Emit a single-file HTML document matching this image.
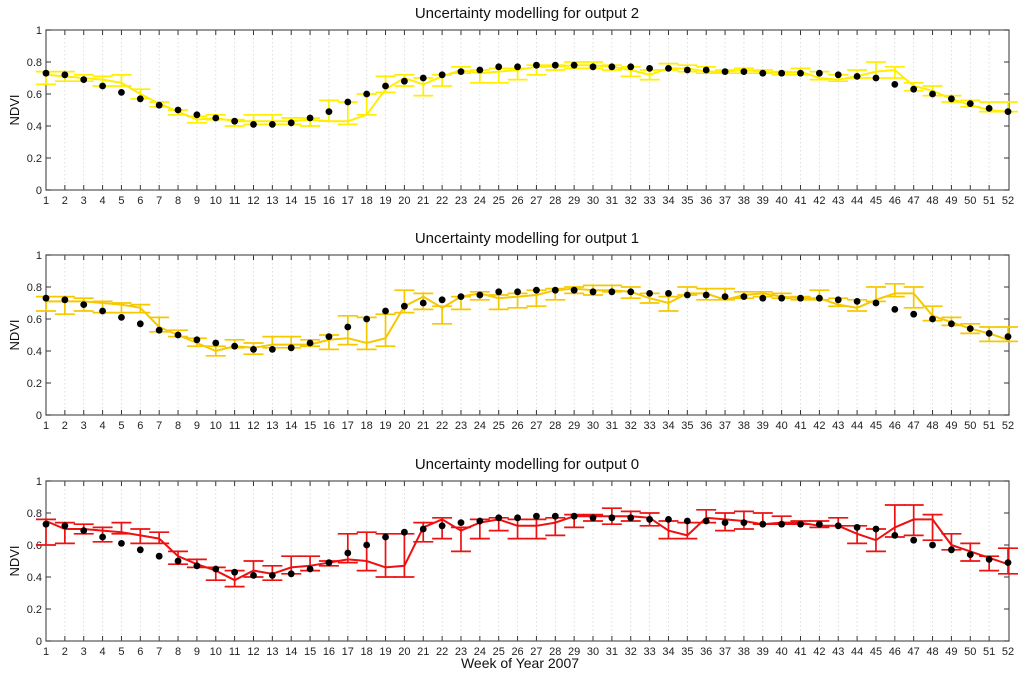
<!DOCTYPE html>
<html><head><meta charset="utf-8"><style>
html,body{margin:0;padding:0;background:#fff;}
svg{display:block;font-family:"Liberation Sans",Arial,sans-serif;}
</style></head><body>
<svg id="chart" width="1024" height="682" viewBox="0 0 1024 682" xmlns="http://www.w3.org/2000/svg"></svg>
<script>
const weeks = Array.from({length:52},(_,i)=>i+1);
const observed = [.73,.72,.69,.65,.61,.57,.53,.50,.47,.45,.43,.41,.41,.42,.45,.49,.55,.60,.65,.68,.70,.72,.74,.75,.77,.77,.78,.78,.78,.77,.77,.77,.76,.76,.75,.75,.74,.74,.73,.73,.73,.73,.72,.71,.70,.66,.63,.60,.57,.54,.51,.49];
const out2Mean = [.72,.71,.70,.69,.67,.60,.54,.49,.44,.45,.43,.43,.43,.43,.44,.43,.43,.47,.63,.70,.66,.71,.75,.73,.74,.75,.77,.77,.78,.78,.77,.75,.72,.76,.76,.74,.74,.75,.74,.73,.74,.70,.69,.71,.74,.75,.65,.62,.57,.53,.50,.49];
const out2Low  = [.66,.68,.68,.65,.65,.57,.52,.47,.42,.44,.40,.41,.41,.41,.40,.43,.41,.47,.61,.65,.59,.65,.73,.67,.67,.69,.72,.75,.76,.76,.75,.71,.69,.75,.74,.73,.73,.73,.73,.72,.72,.69,.68,.70,.70,.70,.62,.59,.55,.52,.49,.49];
const out2High = [.74,.74,.72,.71,.72,.63,.55,.50,.46,.47,.44,.47,.47,.45,.45,.56,.55,.60,.71,.72,.70,.72,.77,.75,.76,.76,.78,.78,.80,.80,.78,.77,.75,.79,.78,.77,.75,.76,.75,.74,.76,.74,.72,.75,.80,.77,.67,.65,.59,.56,.55,.55];
const out1Mean = [.71,.71,.71,.70,.69,.67,.55,.50,.45,.40,.43,.42,.44,.44,.44,.47,.48,.45,.48,.68,.74,.67,.74,.76,.73,.74,.75,.78,.79,.78,.78,.77,.73,.70,.76,.76,.72,.75,.76,.74,.73,.73,.69,.67,.72,.76,.76,.62,.58,.54,.51,.47];
const out1Low  = [.65,.63,.65,.64,.64,.64,.52,.49,.43,.37,.42,.38,.42,.42,.43,.41,.44,.41,.43,.64,.66,.57,.66,.72,.66,.67,.68,.72,.76,.75,.77,.73,.70,.65,.75,.72,.72,.73,.74,.73,.72,.72,.68,.65,.71,.74,.67,.59,.56,.51,.46,.46];
const out1High = [.74,.74,.73,.71,.70,.69,.61,.53,.48,.43,.47,.45,.49,.49,.47,.50,.62,.61,.63,.78,.76,.68,.74,.77,.75,.76,.78,.79,.80,.81,.81,.80,.76,.74,.80,.79,.79,.77,.77,.76,.74,.78,.73,.72,.80,.82,.80,.68,.61,.57,.55,.55];
const out0Mean = [.75,.70,.70,.69,.68,.66,.64,.53,.48,.44,.38,.44,.42,.46,.47,.49,.51,.50,.46,.47,.71,.76,.69,.74,.76,.72,.72,.74,.78,.78,.78,.78,.77,.69,.66,.77,.76,.75,.73,.74,.74,.72,.72,.67,.63,.71,.76,.76,.60,.56,.52,.48];
const out0Low  = [.60,.61,.67,.62,.67,.61,.61,.48,.46,.38,.34,.40,.38,.42,.44,.47,.49,.44,.40,.40,.62,.64,.56,.64,.69,.64,.64,.66,.71,.75,.73,.75,.72,.64,.64,.74,.69,.70,.73,.73,.73,.71,.72,.61,.56,.65,.66,.63,.57,.50,.44,.42];
const out0High = [.76,.74,.73,.71,.74,.70,.68,.56,.51,.46,.44,.50,.47,.53,.53,.50,.67,.68,.67,.67,.74,.77,.71,.76,.77,.76,.76,.77,.79,.79,.83,.81,.80,.75,.74,.82,.80,.81,.80,.78,.75,.75,.77,.72,.70,.85,.85,.79,.67,.61,.53,.58];
const yTicks = [0,0.2,0.4,0.6,0.8,1];
const yTickLabels = ["0","0.2","0.4","0.6","0.8","1"];
const panelTitles = ["Uncertainty modelling for output 2","Uncertainty modelling for output 1","Uncertainty modelling for output 0"];

const NS="http://www.w3.org/2000/svg";
const svg=document.getElementById('chart');
const X0=46,X1=1009;
function xs(w){return X0+(w-1)*(1008-X0)/51;}
function mk(tag,attrs,parent){const e=document.createElementNS(NS,tag);for(const k in attrs)e.setAttribute(k,attrs[k]);(parent||svg).appendChild(e);return e;}

const panels=[
 {top:30,bot:190,mean:out2Mean,low:out2Low,high:out2High,color:"#ffee00",name:"output-2"},
 {top:255,bot:415,mean:out1Mean,low:out1Low,high:out1High,color:"#f5c800",name:"output-1"},
 {top:481,bot:641,mean:out0Mean,low:out0Low,high:out0High,color:"#ee1111",name:"output-0"}
];
panels.forEach((p,pi)=>{
 const g=mk('g',{});
 
 
 const ys=v=>p.bot-v*(p.bot-p.top);
 weeks.forEach(w=>{
  if(w===1||w===52)return;
  const l=mk('line',{x1:xs(w),x2:xs(w),y1:p.top,y2:p.bot,stroke:"#d0d0d0","stroke-width":0.7,"stroke-dasharray":"1.5,2.5"},g);
  
  
  mk('line',{x1:xs(w),x2:xs(w),y1:p.bot,y2:p.bot-5,stroke:"#333","stroke-width":1},g);
  mk('line',{x1:xs(w),x2:xs(w),y1:p.top,y2:p.top+5,stroke:"#333","stroke-width":1},g);
 });
 const box=mk('rect',{x:X0,y:p.top,width:X1-X0,height:p.bot-p.top,fill:"none",stroke:"#555","stroke-width":1.2},g);
 
 
 yTicks.forEach((v,i)=>{
  mk('line',{x1:X0,x2:X0+5,y1:ys(v),y2:ys(v),stroke:"#333"},g);
  mk('line',{x1:X1,x2:X1-5,y1:ys(v),y2:ys(v),stroke:"#333"},g);
  const t=mk('text',{x:X0-4,y:ys(v)+4,"text-anchor":"end","font-size":11,fill:"#222"},g);
  t.textContent=yTickLabels[i];
  
  
 });
 weeks.forEach(w=>{
  const t=mk('text',{x:xs(w),y:p.bot+14,"text-anchor":"middle","font-size":11,fill:"#222"},g);
  t.textContent=String(w);
  
  
 });
 const yl=mk('text',{x:0,y:0,transform:`translate(19,${(p.top+p.bot)/2}) rotate(-90)`,"text-anchor":"middle","font-size":13,fill:"#111"},g);
 yl.textContent="NDVI";
 
 
 const tt=mk('text',{x:527,y:p.top-12,"text-anchor":"middle","font-size":15,fill:"#111"},g);
 tt.textContent=panelTitles[pi];
 
 
 weeks.forEach((w,i)=>{
  const x=xs(w),c=p.color;
  const eb=mk('g',{stroke:c,"stroke-width":1.7,fill:"none"},g);
  
  
  mk('line',{x1:x,x2:x,y1:ys(p.low[i]),y2:ys(p.high[i])},eb);
  mk('line',{x1:x-10,x2:x+10,y1:ys(p.low[i]),y2:ys(p.low[i])},eb);
  mk('line',{x1:x-10,x2:x+10,y1:ys(p.high[i]),y2:ys(p.high[i])},eb);
 });
 const pl=mk('polyline',{points:weeks.map((w,i)=>xs(w)+","+ys(p.mean[i])).join(" "),fill:"none",stroke:p.color,"stroke-width":2},g);
 
 
 weeks.forEach((w,i)=>{
  const c=mk('circle',{cx:xs(w),cy:ys(observed[i]),r:3.4,fill:"#000"},g);
  
  
 });
});
const xl=mk('text',{x:520,y:668,"text-anchor":"middle","font-size":14,fill:"#111"});
xl.textContent="Week of Year 2007";


</script>
</body></html>
